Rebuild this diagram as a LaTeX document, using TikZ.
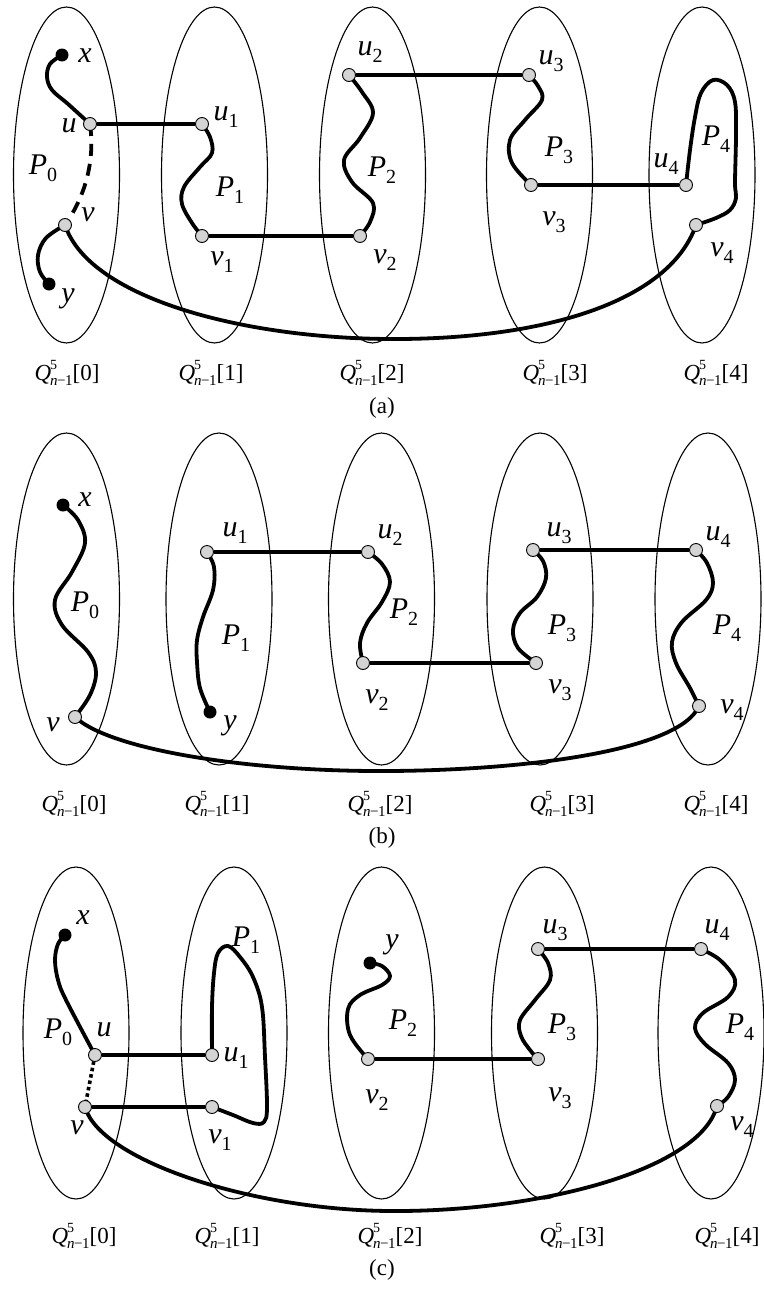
\documentclass[tikz,border=0pt]{standalone}
\usepackage{fontspec}
\setmainfont{Liberation Serif}
\pgfdeclarelayer{bg}
\pgfsetlayers{bg,main}
\definecolor{dotgray}{RGB}{212,212,212}
% vertex label with an upright index
\newcommand\vlab[2]{\textit{#1}\raisebox{-7pt}{\fontsize{20}{20}\selectfont #2}}
% subcube label Q^5_{n-1}[k]
\newcommand\qcube[1]{\textit{Q}\kern-1pt\rlap{\raisebox{11pt}{\fontsize{14}{14}\selectfont 5}}\raisebox{-5pt}{\fontsize{15}{15}\selectfont\textit{n}\kern-0.5pt−\kern-0.5pt1}[#1]}
\tikzset{
  cell/.style={line width=1.1pt},
  pth/.style={line width=3.8pt, line join=round},
  dashpth/.style={pth, dash pattern=on 12pt off 8pt},
  dotpth/.style={line width=3.6pt, dash pattern=on 3.5pt off 3pt},
  gdot/.style={circle, draw, line width=0.9pt, fill=dotgray, minimum size=13pt, inner sep=0pt},
  bdot/.style={circle, fill=black, minimum size=13pt, inner sep=0pt},
  lab/.style={inner sep=0pt, font=\fontsize{30}{30}\selectfont},
  qlab/.style={inner sep=0pt, font=\fontsize{23}{23}\selectfont},
  captext/.style={inner sep=0pt, font=\fontsize{23}{23}\selectfont},
}
\begin{document}
\begin{tikzpicture}[x=1pt, y=-1pt]
\useasboundingbox (0,0) rectangle (763,1293);

% ---------------- panel (a) ----------------
\node[bdot] (ax) at (62,55) {};
\node[gdot] (au) at (90,124) {};
\node[gdot] (av) at (65,225) {};
\node[bdot] (ay) at (49,284) {};
\node[gdot] (au1) at (202,124) {};
\node[gdot] (av1) at (202,236) {};
\node[gdot] (av2) at (360,236) {};
\node[gdot] (au2) at (349,75) {};
\node[gdot] (au3) at (529,75) {};
\node[gdot] (av3) at (531,185) {};
\node[gdot] (au4) at (686,185) {};
\node[gdot] (av4) at (696,225) {};

\node[lab] (axl) at (85,56) {\textit{x}};
\node[lab] (aul) at (69,126) {\textit{u}};
\node[lab] (avl) at (88,215) {\textit{v}};
\node[lab] (ayl) at (68,299) {\textit{y}};
\node[lab] (aP0) at (43,168) {\vlab{P}{0}};
\node[lab] (au1l) at (226,117) {\vlab{u}{1}};
\node[lab] (av1l) at (222,262) {\vlab{v}{1}};
\node[lab] (aP1) at (230,190) {\vlab{P}{1}};
\node[lab] (av2l) at (385,260) {\vlab{v}{2}};
\node[lab] (au2l) at (370,52) {\vlab{u}{2}};
\node[lab] (aP2) at (382,170) {\vlab{P}{2}};
\node[lab] (au3l) at (551,61) {\vlab{u}{3}};
\node[lab] (av3l) at (554,222) {\vlab{v}{3}};
\node[lab] (aP3) at (559,150) {\vlab{P}{3}};
\node[lab] (au4l) at (666,164) {\vlab{u}{4}};
\node[lab] (av4l) at (722,253) {\vlab{v}{4}};
\node[lab] (aP4) at (716,139) {\vlab{P}{4}};

\node[qlab] (aq0) at (67,373) {\qcube{0}};
\node[qlab] (aq1) at (211,373) {\qcube{1}};
\node[qlab] (aq2) at (372,373) {\qcube{2}};
\node[qlab] (aq3) at (555,373) {\qcube{3}};
\node[qlab] (aq4) at (716,373) {\qcube{4}};
\node[captext] (acap) at (382,408) {(a)};

\begin{pgfonlayer}{bg}
  \foreach \cx in {66.5,214.5,372.5,539.5,702}
    \draw[cell] (\cx,175) ellipse [x radius=53, y radius=168];
  \draw[pth] plot[smooth, tension=0.6] coordinates {(ax.center) (50,64) (47,77) (52,90) (68,104) (au.center)};
  \draw[dashpth] (au.center) .. controls (95,160) and (86,195) .. (av.center);
  \draw[pth] plot[smooth, tension=0.6] coordinates {(av.center) (46,238) (38,255) (40,272) (ay.center)};
  \draw[pth] (au) -- (au1);
  \draw[pth] plot[smooth, tension=0.6] coordinates {(au1.center) (210,137) (212,153) (200,167) (184,187) (182,204) (192,223) (av1.center)};
  \draw[pth] (av1) -- (av2);
  \draw[pth] plot[smooth, tension=0.6] coordinates {(av2.center) (370,222) (373,203) (352,182) (344,160) (360,138) (373,113) (362,92) (au2.center)};
  \draw[pth] (au2) -- (au3);
  \draw[pth] plot[smooth, tension=0.6] coordinates {(au3.center) (538,86) (542,100) (525,120) (510,140) (512,163) (av3.center)};
  \draw[pth] (av3) -- (au4);
  \draw[pth] plot[smooth, tension=0.6] coordinates {(au4.center) (690,150) (695,117) (701,93) (713,80) (727,85) (735,102) (736,135) (735,183) (736,198) (730,210) (716,218) (av4.center)};
  \draw[pth] (av.center) .. controls (90,300) and (250,340) .. (400,339) .. controls (550,338) and (670,300) .. (av4.center);
\end{pgfonlayer}

% ---------------- panel (b) ----------------
\node[bdot] (bx) at (63,505) {};
\node[gdot] (bv) at (75,717) {};
\node[gdot] (bu1) at (207,552) {};
\node[bdot] (by) at (210,712) {};
\node[gdot] (bu2) at (368,552) {};
\node[gdot] (bv2) at (363,663) {};
\node[gdot] (bv3) at (536,663) {};
\node[gdot] (bu3) at (533,550) {};
\node[gdot] (bu4) at (696,550) {};
\node[gdot] (bv4) at (699,706) {};

\node[lab] (bxl) at (85,500) {\textit{x}};
\node[lab] (bvl) at (53,725) {\textit{v}};
\node[lab] (bP0) at (85,605) {\vlab{P}{0}};
\node[lab] (bu1l) at (235,533) {\vlab{u}{1}};
\node[lab] (byl) at (230,726) {\textit{y}};
\node[lab] (bP1) at (236,638) {\vlab{P}{1}};
\node[lab] (bu2l) at (390,535) {\vlab{u}{2}};
\node[lab] (bv2l) at (377,700) {\vlab{v}{2}};
\node[lab] (bP2) at (404,612) {\vlab{P}{2}};
\node[lab] (bu3l) at (559,533) {\vlab{u}{3}};
\node[lab] (bv3l) at (560,690) {\vlab{v}{3}};
\node[lab] (bP3) at (562,628) {\vlab{P}{3}};
\node[lab] (bu4l) at (718,537) {\vlab{u}{4}};
\node[lab] (bv4l) at (732,710) {\vlab{v}{4}};
\node[lab] (bP4) at (727,628) {\vlab{P}{4}};

\node[qlab] (bq0) at (74,804) {\qcube{0}};
\node[qlab] (bq1) at (217,804) {\qcube{1}};
\node[qlab] (bq2) at (380,804) {\qcube{2}};
\node[qlab] (bq3) at (562,804) {\qcube{3}};
\node[qlab] (bq4) at (716,804) {\qcube{4}};
\node[captext] (bcap) at (382,838) {(b)};

\begin{pgfonlayer}{bg}
  \foreach \cx in {66.5,219,381.5,540,708}
    \draw[cell] (\cx,599) ellipse [x radius=53, y radius=166];
  \draw[pth] plot[smooth, tension=0.6] coordinates {(bx.center) (78,520) (85,543) (72,572) (55,600) (62,625) (88,652) (96,672) (90,695) (bv.center)};
  \draw[pth] plot[smooth, tension=0.6] coordinates {(bu1.center) (214,567) (213,590) (203,617) (197,640) (197,662) (200,688) (by.center)};
  \draw[pth] (bu1) -- (bu2);
  \draw[pth] plot[smooth, tension=0.6] coordinates {(bu2.center) (382,564) (390,582) (382,602) (367,623) (360,643) (bv2.center)};
  \draw[pth] (bv2) -- (bv3);
  \draw[pth] plot[smooth, tension=0.6] coordinates {(bu3.center) (543,561) (546,578) (537,597) (520,613) (513,630) (518,648) (bv3.center)};
  \draw[pth] (bu3) -- (bu4);
  \draw[pth] plot[smooth, tension=0.6] coordinates {(bu4.center) (707,563) (713,583) (706,600) (682,622) (672,642) (676,663) (690,688) (bv4.center)};
  \draw[pth] (bv.center) .. controls (110,750) and (250,772) .. (390,771) .. controls (530,770) and (680,750) .. (bv4.center);
\end{pgfonlayer}

% ---------------- panel (c) ----------------
\node[bdot] (cx) at (65,935) {};
\node[gdot] (cu) at (95,1055) {};
\node[gdot] (cv) at (85,1107) {};
\node[gdot] (cu1) at (212,1055) {};
\node[gdot] (cv1) at (212,1107) {};
\node[bdot] (cy) at (370,963) {};
\node[gdot] (cv2) at (368,1059) {};
\node[gdot] (cv3) at (538,1059) {};
\node[gdot] (cu3) at (538,949) {};
\node[gdot] (cu4) at (701,949) {};
\node[gdot] (cv4) at (717,1106) {};

\node[lab] (cxl) at (83,918) {\textit{x}};
\node[lab] (cul) at (104,1030) {\textit{u}};
\node[lab] (cvl) at (77,1128) {\textit{v}};
\node[lab] (cP0) at (58,1032) {\vlab{P}{0}};
\node[lab] (cu1l) at (236,1058) {\vlab{u}{1}};
\node[lab] (cv1l) at (220,1140) {\vlab{v}{1}};
\node[lab] (cP1) at (246,940) {\vlab{P}{1}};
\node[lab] (cyl) at (392,945) {\textit{y}};
\node[lab] (cv2l) at (377,1100) {\vlab{v}{2}};
\node[lab] (cP2) at (403,1023) {\vlab{P}{2}};
\node[lab] (cu3l) at (555,930) {\vlab{u}{3}};
\node[lab] (cv3l) at (560,1098) {\vlab{v}{3}};
\node[lab] (cP3) at (562,1027) {\vlab{P}{3}};
\node[lab] (cu4l) at (717,930) {\vlab{u}{4}};
\node[lab] (cv4l) at (742,1127) {\vlab{v}{4}};
\node[lab] (cP4) at (740,1027) {\vlab{P}{4}};

\node[qlab] (cq0) at (84,1236) {\qcube{0}};
\node[qlab] (cq1) at (227,1236) {\qcube{1}};
\node[qlab] (cq2) at (390,1236) {\qcube{2}};
\node[qlab] (cq3) at (572,1236) {\qcube{3}};
\node[qlab] (cq4) at (727,1236) {\qcube{4}};
\node[captext] (ccap) at (382,1270) {(c)};

\begin{pgfonlayer}{bg}
  \foreach \cx in {76,234,381.5,544.5,711}
    \draw[cell] (\cx,1033) ellipse [x radius=53, y radius=166];
  \draw[pth] plot[smooth, tension=0.6] coordinates {(cx.center) (58,944) (55,960) (58,980) (66,1000) (cu.center)};
  \draw[dotpth] (cu.center) -- (cv.center);
  \draw[pth] (cu) -- (cu1);
  \draw[pth] (cv) -- (cv1);
  \draw[pth] plot[smooth, tension=0.6] coordinates {(cu1.center) (212,1007) (214,973) (218,953) (228,946) (240,957) (253,977) (262,1007) (265,1057) (267,1107) (264,1122) (253,1123) (233,1115) (cv1.center)};
  \draw[pth] plot[smooth, tension=0.6] coordinates {(cy.center) (382,966) (390,976) (382,985) (360,995) (348,1009) (350,1035) (cv2.center)};
  \draw[pth] (cv2) -- (cv3);
  \draw[pth] plot[smooth, tension=0.6] coordinates {(cu3.center) (548,963) (550,980) (535,1000) (520,1020) (521,1036) (530,1050) (cv3.center)};
  \draw[pth] (cu3) -- (cu4);
  \draw[pth] plot[smooth, tension=0.6] coordinates {(cu4.center) (720,960) (735,980) (728,997) (703,1013) (695,1028) (705,1044) (728,1063) (735,1080) (728,1097) (cv4.center)};
  \draw[pth] (cv.center) .. controls (100,1160) and (250,1210) .. (390,1211) .. controls (540,1212) and (700,1170) .. (cv4.center);
\end{pgfonlayer}
\end{tikzpicture}
\end{document}
